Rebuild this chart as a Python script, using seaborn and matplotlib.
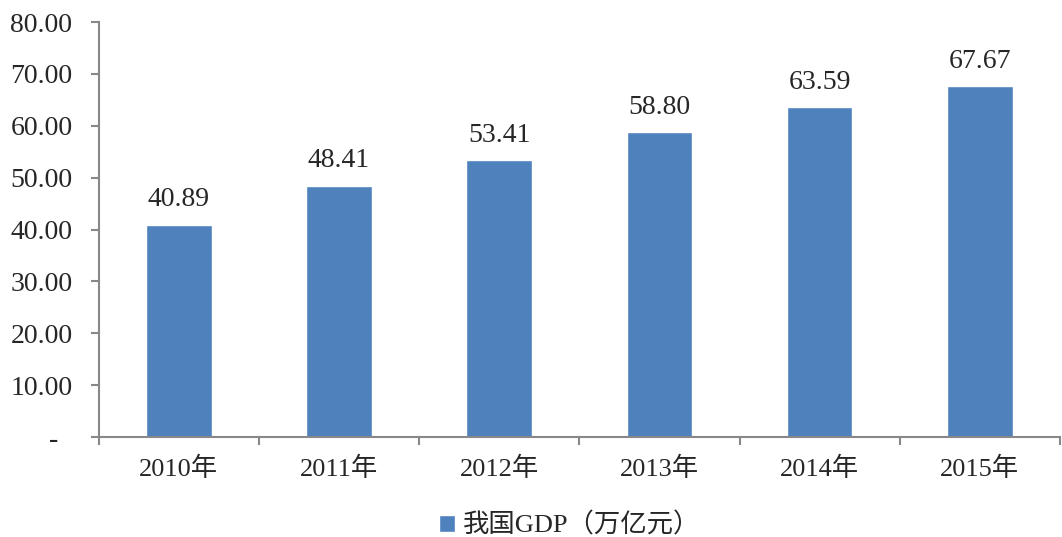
import matplotlib
matplotlib.use("Agg")
import matplotlib.pyplot as plt
import seaborn as sns
import pandas as pd

# Data
years = ['2010年', '2011年', '2012年', '2013年', '2014年', '2015年']
gdp = [40.89, 48.41, 53.41, 58.80, 63.59, 67.67]
series_name = '我国GDP（万亿元）'

# Setup
sns.set_theme(style="white")
plt.rcParams['font.family'] = ['Liberation Serif', 'Noto Sans CJK SC']
bar_color = '#4F81BD'
axis_color = '#888888'

df = pd.DataFrame({'year': years, 'gdp': gdp})

fig = plt.figure(figsize=(10.62, 5.37), dpi=100)
ax = fig.add_axes([0.093, 0.186, 0.905, 0.773])

sns.barplot(data=df, x='year', y='gdp', color=bar_color, width=0.41,
            saturation=1, label=series_name, ax=ax)

# value labels
for i, v in enumerate(gdp):
    ax.text(i, v + 2.4, f'{v:.2f}', ha='center', va='bottom', fontsize=20)

# y axis (zero shown as a dash, accounting style)
ax.set_ylim(0, 80)
yticks = list(range(0, 81, 10))
ax.set_yticks(yticks)
ax.set_yticklabels(['-  ' if t == 0 else f'{t:.2f}' for t in yticks], fontsize=20)

# x axis: labels at centers, tick marks at category boundaries
ax.set_xlim(-0.5, len(years) - 0.5)
ax.set_xticks(range(len(years)))
ax.set_xticklabels(years, fontsize=19)
ax.set_xticks([i - 0.5 for i in range(len(years) + 1)], minor=True)
ax.tick_params(axis='x', which='major', bottom=False, length=0, pad=14)
ax.tick_params(axis='x', which='minor', bottom=True, length=6, width=1.5,
               color=axis_color, direction='out')
ax.tick_params(axis='y', left=True, length=6, width=1.5, color=axis_color,
               direction='out', pad=13)
ax.set_xlabel('')
ax.set_ylabel('')

for s in ['top', 'right']:
    ax.spines[s].set_visible(False)
for s in ['left', 'bottom']:
    ax.spines[s].set_color(axis_color)
    ax.spines[s].set_linewidth(1.5)

ax.legend(loc='upper center', bbox_to_anchor=(0.49, -0.125), frameon=False,
          fontsize=19, handlelength=0.6, handleheight=0.6, handletextpad=0.3)

plt.savefig('out.png', dpi=100)
